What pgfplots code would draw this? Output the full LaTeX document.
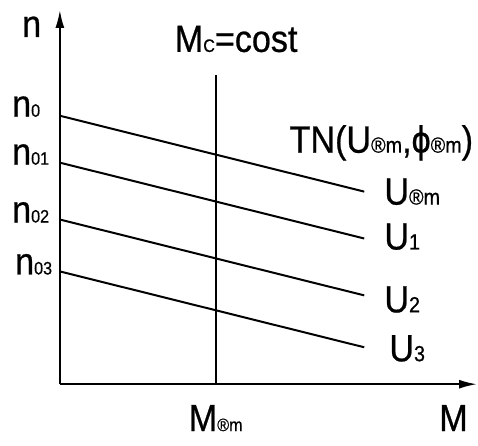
\documentclass[border=0pt]{standalone}
\usepackage{fontspec}
\setmainfont{Liberation Sans}[FakeStretch=0.9, FakeBold=0.6]
\usepackage{pgfplots}
\pgfplotsset{compat=1.18}
\usetikzlibrary{arrows.meta}
\newcommand{\bg}[1]{{\fontsize{38}{38}\selectfont #1}}
\newcommand{\sm}[1]{{\fontsize{18}{18}\selectfont #1}}
\newcommand{\smr}[1]{{\fontsize{22}{22}\selectfont #1}}
\newcommand{\smu}[1]{{\fontsize{22}{22}\selectfont #1}}
\begin{document}
\begin{tikzpicture}
\begin{axis}[
  x=1pt, y=1pt,
  xmin=0, xmax=418, ymin=0, ymax=375,
  axis lines=left,
  axis line style={line width=2pt, -{Latex[length=18pt,width=9pt]}},
  xtick=\empty, ytick=\empty,
  clip=false,
]
\path[use as bounding box] (axis cs:-60,-61) rectangle (axis cs:418,385);
\addplot[black, line width=2pt] coordinates {(0,269) (305,193)};
\addplot[black, line width=2pt] coordinates {(0,222) (305,146)};
\addplot[black, line width=2pt] coordinates {(0,165) (305,89)};
\addplot[black, line width=2pt] coordinates {(0,113) (305,37)};
\addplot[black, line width=2pt] coordinates {(156,0) (156,310)};
\node[anchor=base west, inner sep=0pt] at (axis cs:-38,348) {\bg{n}};
\node[anchor=base west, inner sep=0pt] at (axis cs:115,333) {\bg{M}\sm{C}\bg{=cost}};
\node[anchor=base west, inner sep=0pt] at (axis cs:-48,268) {\bg{n}\sm{0}};
\node[anchor=base west, inner sep=0pt] at (axis cs:-48,220) {\bg{n}\sm{01}};
\node[anchor=base west, inner sep=0pt] at (axis cs:-48,162) {\bg{n}\sm{02}};
\node[anchor=base west, inner sep=0pt] at (axis cs:-45,110) {\bg{n}\sm{03}};
\node[anchor=base west, inner sep=0pt] at (axis cs:230,232) {\bg{TN(U}\smr{®m}\bg{,ϕ}\smr{®m}\bg{)}};
\node[anchor=base west, inner sep=0pt] at (axis cs:325,180) {\bg{U}\smr{®m}};
\node[anchor=base west, inner sep=0pt] at (axis cs:325,135) {\bg{U}\smu{1}};
\node[anchor=base west, inner sep=0pt] at (axis cs:325,72) {\bg{U}\smu{2}};
\node[anchor=base west, inner sep=0pt] at (axis cs:330,23) {\bg{U}\smu{3}};
\node[anchor=base west, inner sep=0pt] at (axis cs:129,-47) {\bg{M}\sm{®m}};
\node[anchor=base west, inner sep=0pt] at (axis cs:380,-47) {\bg{M}};
\end{axis}
\end{tikzpicture}
\end{document}
